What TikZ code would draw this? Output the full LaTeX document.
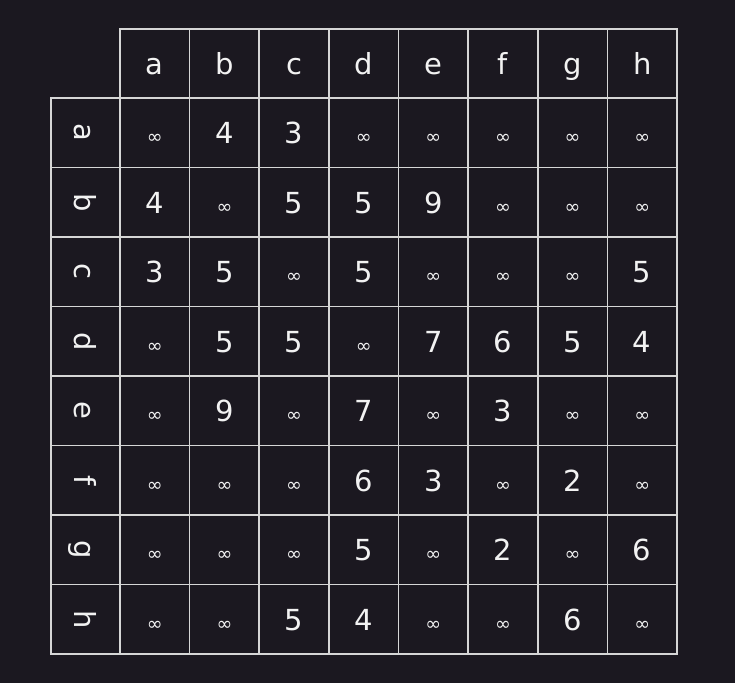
\documentclass[tikz,border=0pt]{standalone}
\usepackage{fontspec}
\setmainfont{DejaVu Sans}
\definecolor{bg}{HTML}{1B1820}
\definecolor{gridc}{HTML}{D6D6D6}
\definecolor{txt}{HTML}{F2F2F2}
\newcommand{\inff}{{\fontsize{19}{19}\selectfont ∞}}
\tikzset{
  cell/.style={draw=gridc, line width=1.6pt, minimum width=69.6pt, minimum height=69.5pt, inner sep=0pt, text=txt, font=\fontsize{29}{30}\selectfont, text height=21.5pt, text depth=0pt},
  rowlabel/.style={cell, rotate=-90}
}
\begin{document}
\begin{tikzpicture}[x=1pt,y=-1pt]
\fill[bg] (0,0) rectangle (735,683);
\useasboundingbox (0,0) rectangle (735,683);
% header
\foreach \l [count=\i] in {a,b,c,d,e,f,g,h}{
  \node[cell] (h-\i) at ({120+69.625*(\i-0.5)},63.5) {\l};
  \node[rowlabel] (r-\i) at (85.5,{98+69.5*(\i-0.5)}) {\l};
}
\foreach \row [count=\r] in {
  {\inff,4,3,\inff,\inff,\inff,\inff,\inff},
  {4,\inff,5,5,9,\inff,\inff,\inff},
  {3,5,\inff,5,\inff,\inff,\inff,5},
  {\inff,5,5,\inff,7,6,5,4},
  {\inff,9,\inff,7,\inff,3,\inff,\inff},
  {\inff,\inff,\inff,6,3,\inff,2,\inff},
  {\inff,\inff,\inff,5,\inff,2,\inff,6},
  {\inff,\inff,5,4,\inff,\inff,6,\inff}}{
  \foreach \v [count=\c] in \row {
    \node[cell] (m-\r-\c) at ({120+69.625*(\c-0.5)},{98+69.5*(\r-0.5)}) {\v};
  }
}
\end{tikzpicture}
\end{document}
